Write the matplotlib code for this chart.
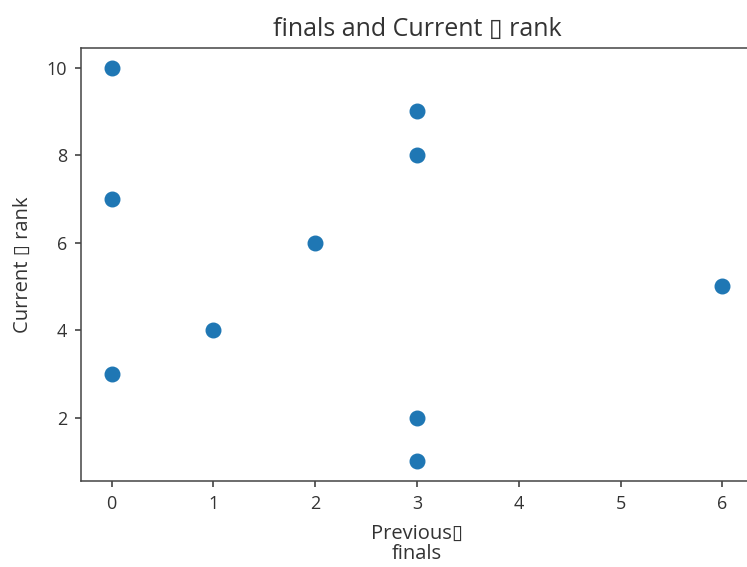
import matplotlib.pyplot as plt

previous_finals = [0, 0, 0, 1, 2, 3, 3, 3, 3, 6]
current_rank = [10, 7, 3, 4, 6, 9, 8, 2, 1, 5]

plt.rcParams['font.family'] = ['Open Sans', 'DejaVu Sans']
plt.rcParams['font.size'] = 13

fig = plt.figure(figsize=(7.47, 5.67), dpi=100)
ax = fig.add_axes([81 / 747, 86 / 567, 672 / 747, 433 / 567])
ax.scatter(previous_finals, current_rank, s=110, color='#1f77b4')
ax.set_xlim(-0.3, 6.3)
ax.set_ylim(0.55, 10.45)
ax.tick_params(length=4, width=1.1, pad=6, labelsize=13, colors='#333333')
for s in ax.spines.values():
    s.set_linewidth(1.1)
    s.set_color('#444444')
ax.set_xlabel('Previous\u25af\nfinals', labelpad=8, fontsize=14.5, color='#333333',
              linespacing=1.0)
ax.set_ylabel('Current \u25af rank', labelpad=10, fontsize=14.5, color='#333333')
ax.set_title('finals and Current \u25af rank', pad=9, fontsize=18, color='#333333')
fig.savefig('out.png', dpi=100)
